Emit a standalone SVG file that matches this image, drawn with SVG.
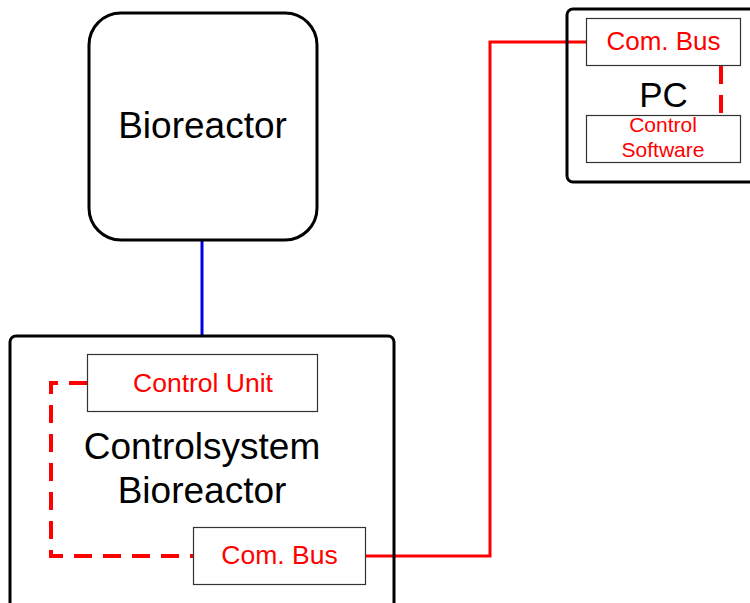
<svg xmlns="http://www.w3.org/2000/svg" width="750" height="603" viewBox="0 0 750 603">
<style>
.big{fill:none;stroke:#000;stroke-width:3}
.sub{fill:#fff;stroke:#333;stroke-width:1.2}
.t{font-family:"Liberation Sans",Arial,sans-serif;text-anchor:middle;fill:#000}
.r{font-family:"Liberation Sans",Arial,sans-serif;text-anchor:middle;fill:#f00}
.solid{fill:none;stroke:#f00;stroke-width:3}
.dash{fill:none;stroke:#f00;stroke-width:4;stroke-dasharray:18 11}
</style>
<rect width="750" height="603" fill="#fff"/>
<g id="connectors">
<line x1="202" y1="240" x2="202" y2="336" stroke="#0000e0" stroke-width="3"/>
<path class="solid" d="M365 556 H490 V42 H587"/>
<path class="dash" d="M87 383 H51 V556 H193"/>
<path class="dash" d="M721 66 V116"/>
</g>
<g id="bioreactor">
<rect class="big" x="89" y="13" width="228" height="227" rx="32"/>
<text class="t" x="202.5" y="138" font-size="37">Bioreactor</text>
</g>
<g id="controlsystem">
<rect class="big" x="10" y="336" width="384" height="290" rx="6"/>
<text class="t" x="202" y="459" font-size="37">Controlsystem</text>
<text class="t" x="202" y="503" font-size="37">Bioreactor</text>
</g>
<g id="control-unit">
<rect class="sub" x="87.5" y="354.5" width="230" height="57"/>
<text class="r" x="203" y="392" font-size="26.5">Control Unit</text>
</g>
<g id="com-bus-1">
<rect class="sub" x="193.5" y="527.5" width="172" height="57"/>
<text class="r" x="279.5" y="564" font-size="26.5">Com. Bus</text>
</g>
<g id="pc">
<rect class="big" x="567" y="9" width="200" height="173" rx="6"/>
<text class="t" x="663.5" y="107" font-size="35">PC</text>
</g>
<g id="com-bus-2">
<rect class="sub" x="586.5" y="18.5" width="154" height="47"/>
<text class="r" x="663.5" y="50" font-size="26">Com. Bus</text>
</g>
<g id="control-software">
<rect class="sub" x="586.5" y="115.5" width="154" height="47"/>
<text class="r" x="663" y="132" font-size="21">Control</text>
<text class="r" x="663" y="157" font-size="21">Software</text>
</g>
</svg>
